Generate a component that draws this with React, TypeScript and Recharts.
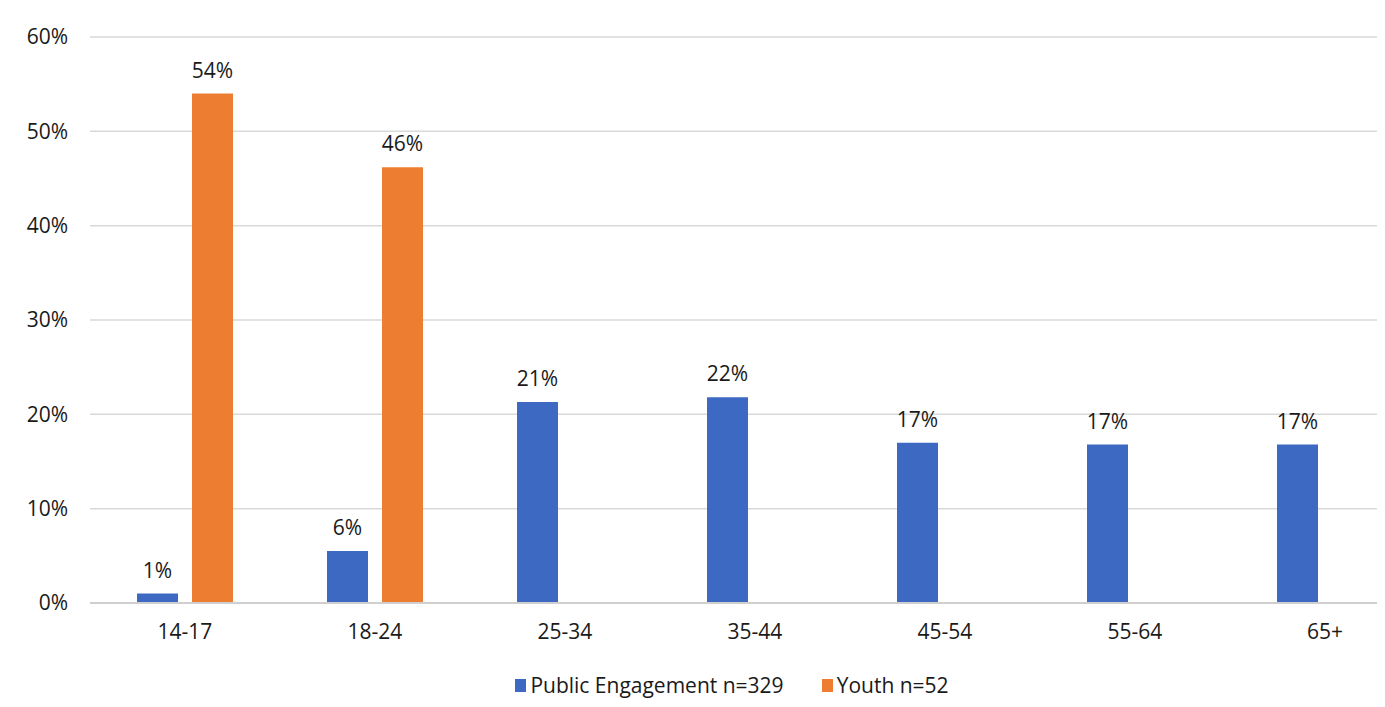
import React from 'react';
import { BarChart, Bar, XAxis, YAxis, CartesianGrid, Legend, LabelList } from 'recharts';

const categories = ['14-17', '18-24', '25-34', '35-44', '45-54', '55-64', '65+'];
const publicEngagement = [1, 5.5, 21.3, 21.8, 17, 16.8, 16.8];
const youth: (number | null)[] = [54, 46.2, null, null, null, null, null];
const yTicks = [0, 10, 20, 30, 40, 50, 60];

const seriesNames = ['Public Engagement n=329', 'Youth n=52'];
const BLUE = '#3D69C3';
const ORANGE = '#ED7D31';
const FONT = '"Open Sans", sans-serif';

const data = categories.map((c, i) => ({
  cat: c,
  pe: publicEngagement[i],
  youth: youth[i],
}));

const fmt = (v: any) => (v == null ? '' : `${Math.round(Number(v))}%`);

const LegendContent = () => (
  <div
    style={{
      display: 'flex',
      justifyContent: 'center',
      alignItems: 'center',
      height: 36,
      paddingLeft: 44,
      fontFamily: FONT,
      fontSize: 21,
      lineHeight: '26px',
      color: '#1a1a1a',
    }}
  >
    <span style={{ display: 'inline-block', width: 11, height: 13, background: BLUE, marginRight: 4 }} />
    <span style={{ marginRight: 38 }}>{seriesNames[0]}</span>
    <span style={{ display: 'inline-block', width: 11, height: 13, background: ORANGE, marginRight: 4 }} />
    <span>{seriesNames[1]}</span>
  </div>
);

export default function App() {
  return (
    <div style={{ margin: -8, width: 1385, height: 707, overflow: 'hidden', background: '#fff', position: 'relative' }}>
      <BarChart
        width={1420}
        height={707}
        data={data}
        margin={{ top: 37, right: 0, bottom: 4, left: 0 }}
        barSize={41}
        barGap={14}
        style={{ fontFamily: FONT }}
      >
        <CartesianGrid vertical={false} stroke="#d9d9d9" strokeWidth={1.5} />
        <XAxis
          dataKey="cat"
          height={64}
          tickLine={false}
          axisLine={{ stroke: '#cfcfcf', strokeWidth: 2 }}
          tickSize={6}
          tickMargin={15}
          tick={{ fill: '#1a1a1a', fontSize: 21, fontFamily: FONT }}
        />
        <YAxis
          width={90}
          domain={[0, 60]}
          ticks={yTicks}
          tickFormatter={(v: number) => `${v}%`}
          tickLine={false}
          axisLine={false}
          tickSize={6}
          tickMargin={16}
          tick={{ fill: '#1a1a1a', fontSize: 21, fontFamily: FONT }}
        />
        <Legend verticalAlign="bottom" height={36} content={<LegendContent />} />
        <Bar dataKey="pe" name={seriesNames[0]} fill={BLUE} isAnimationActive={false}>
          <LabelList dataKey="pe" position="top" offset={16} formatter={fmt} fill="#1a1a1a" fontSize={21} fontFamily={FONT} />
        </Bar>
        <Bar dataKey="youth" name={seriesNames[1]} fill={ORANGE} isAnimationActive={false}>
          <LabelList dataKey="youth" position="top" offset={16} formatter={fmt} fill="#1a1a1a" fontSize={21} fontFamily={FONT} />
        </Bar>
      </BarChart>
    </div>
  );
}
